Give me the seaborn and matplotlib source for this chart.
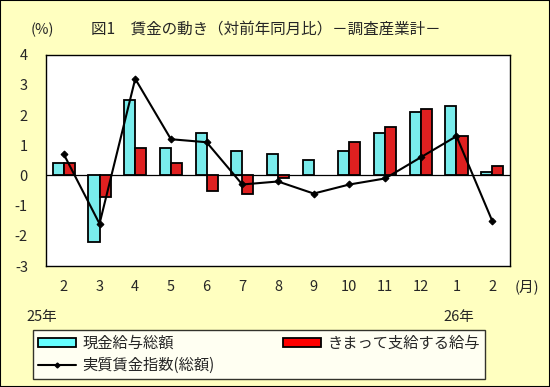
import numpy as np
import pandas as pd
import matplotlib
matplotlib.use("Agg")
import matplotlib.pyplot as plt
import seaborn as sns
from matplotlib.patches import Patch, Rectangle
from matplotlib.lines import Line2D

months = ["2", "3", "4", "5", "6", "7", "8", "9", "10", "11", "12", "1", "2"]
total_pay = [0.4, -2.2, 2.5, 0.9, 1.4, 0.8, 0.7, 0.5, 0.8, 1.4, 2.1, 2.3, 0.1]
regular_pay = [0.4, -0.7, 0.9, 0.4, -0.5, -0.6, -0.1, 0.0, 1.1, 1.6, 2.2, 1.3, 0.3]
real_wage = [0.7, -1.6, 3.2, 1.2, 1.1, -0.3, -0.2, -0.6, -0.3, -0.1, 0.6, 1.3, -1.5]
series_names = ["現金給与総額", "きまって支給する給与", "実質賃金指数(総額)"]
yticks = [-3, -2, -1, 0, 1, 2, 3, 4]

sns.set_style("white")
plt.rcParams["font.family"] = ["Noto Sans CJK JP", "DejaVu Sans"]

BG = "#FFFFC0"
CYAN = "#66FFFF"
RED = "#FF0000"

idx = list(range(len(months)))
df = pd.DataFrame({
    "idx": idx * 2,
    "value": total_pay + regular_pay,
    "series": [series_names[0]] * len(idx) + [series_names[1]] * len(idx),
})

fig = plt.figure(figsize=(5.5, 3.87), dpi=100, facecolor=BG)
fig.patches.append(Rectangle((0, 0), 1, 1, transform=fig.transFigure, fill=False,
                             edgecolor="black", linewidth=1.5, zorder=10))
ax = fig.add_axes([46 / 550, 1 - 266 / 387, (510 - 46) / 550, (266 - 54.7) / 387])
ax.set_facecolor("white")

sns.barplot(data=df, x="idx", y="value", hue="series", hue_order=series_names[:2],
            palette=[CYAN, RED], width=0.62, gap=0, edgecolor="black", linewidth=1.3,
            errorbar=None, legend=False, ax=ax, zorder=2)
# hide zero-height bars (no visible bar in the original)
for p in ax.patches:
    if abs(p.get_height()) < 1e-9:
        p.set_visible(False)
ax.axhline(0, color="black", linewidth=0.9, zorder=1)
sns.lineplot(x=idx, y=real_wage, color="black", linewidth=1.5, marker="D", markersize=3.5,
             markeredgecolor="black", sort=False, ax=ax, zorder=3)

ax.set_xlim(-0.5, len(months) - 0.5)
ax.set_ylim(-3, 4)
ax.set_yticks(yticks)
ax.set_yticklabels([str(v) for v in yticks])
ax.set_xticks(idx)
ax.set_xticklabels(months)
ax.tick_params(axis="both", length=0, labelsize=10.5)
ax.tick_params(axis="x", pad=10)
ax.tick_params(axis="y", pad=13)
ax.set_xlabel("")
ax.set_ylabel("")
for s in ax.spines.values():
    s.set_visible(True)
    s.set_color("black")
    s.set_linewidth(1.0)

fig.text(266 / 550, 1 - 30 / 387, "図1　賃金の動き（対前年同月比）－調査産業計－",
         ha="center", va="center", fontsize=11.2)
fig.text(42 / 550, 1 - 30 / 387, "(%)", ha="center", va="center", fontsize=10.5)
fig.text(527 / 550, 1 - 287 / 387, "(月)", ha="center", va="center", fontsize=10.5)
fig.text(42 / 550, 1 - 317 / 387, "25年", ha="center", va="center", fontsize=10.5)
fig.text(459 / 550, 1 - 317 / 387, "26年", ha="center", va="center", fontsize=10.5)

handles = [
    Patch(facecolor=CYAN, edgecolor="black", linewidth=1.3),
    Line2D([0], [0], color="black", linewidth=1.5, marker="D", markersize=2.5),
    Patch(facecolor=RED, edgecolor="black", linewidth=1.3),
]
labels = [series_names[0], series_names[2], series_names[1]]
leg = fig.legend(handles, labels, ncol=2, loc="center",
                 bbox_to_anchor=(259 / 550, 1 - 354.5 / 387),
                 frameon=True, fancybox=False, fontsize=11, handlelength=2.5,
                 handleheight=0.55, handletextpad=0.4, columnspacing=4.5,
                 labelspacing=0.35, borderpad=0.3, borderaxespad=0)
leg.get_frame().set_edgecolor("black")
leg.get_frame().set_linewidth(1.0)
leg.get_frame().set_facecolor("white")

fig.savefig("out.png", dpi=100, facecolor=BG)
